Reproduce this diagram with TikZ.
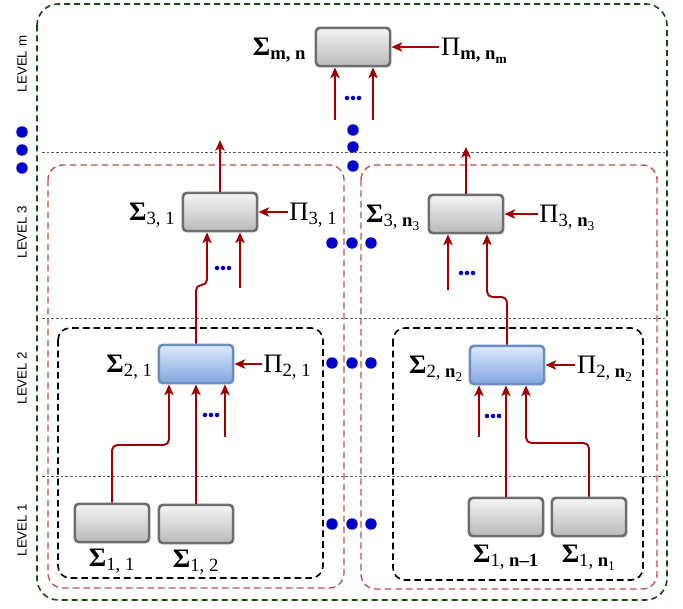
\documentclass[tikz,border=0pt]{standalone}
\usepackage{amsmath}
\usepackage{amssymb}
\usepackage{fontspec}
\newfontfamily\levelfont{Liberation Sans}
\newfontfamily\symfont{Liberation Serif}
\usetikzlibrary{arrows.meta,positioning}
\definecolor{boxgray}{RGB}{110,110,110}
\definecolor{boxblue}{RGB}{108,142,191}
\definecolor{boxbluetop}{RGB}{220,233,252}
\definecolor{boxbluebot}{RGB}{128,166,222}
\definecolor{arrred}{RGB}{160,0,0}
\definecolor{dotblue}{RGB}{0,0,205}
\definecolor{lvlgreen}{RGB}{20,75,20}
\definecolor{lvlred}{RGB}{190,80,80}
\newcommand{\sumlab}[1]{$\text{\bfseries Σ}_{#1}$}
\newcommand{\pilab}[1]{$\text{Π}_{#1}$}

\begin{document}
\begin{tikzpicture}[x=0.75pt,y=-0.75pt,
  sumbox/.style={rectangle, rounded corners=3pt, draw=boxgray, line width=2pt,
    top color=gray!8, bottom color=gray!55, minimum width=55.7pt, minimum height=28.7pt, inner sep=0pt},
  blubox/.style={sumbox, draw=boxblue, top color=boxbluetop, bottom color=boxbluebot},
  lab/.style={font=\symfont\fontsize{20}{22}\selectfont, inner sep=1pt},
  arr/.style={draw=arrred, line width=1.4pt, -{Stealth[length=8pt,width=7pt,inset=2pt]}},
  feed/.style={arr, rounded corners=4pt},
  sep/.style={draw=gray!70!black, line width=0.6pt, dash pattern=on 2pt off 1.5pt},
  lvl/.style={font=\levelfont\fontsize{10}{12}\selectfont, rotate=90}]
\useasboundingbox (0,0) rectangle (683,609);
% level separators
\draw[sep] (42,152) -- (667,152);
\draw[sep] (42,318) -- (667,318);
\draw[sep] (42,476) -- (667,476);
% group frames
\draw[lvlgreen, line width=1.2pt, dash pattern=on 4.5pt off 3pt, rounded corners=16pt] (37,4) rectangle (667,600);
\draw[lvlred, line width=1pt, dash pattern=on 5pt off 3pt, rounded corners=11pt] (48,165) rectangle (344,588);
\draw[lvlred, line width=1pt, dash pattern=on 5pt off 3pt, rounded corners=11pt] (361,165) rectangle (657,589);
\draw[black, line width=1.2pt, dash pattern=on 5pt off 3pt, rounded corners=9pt] (58,328) rectangle (323,578);
\draw[black, line width=1.2pt, dash pattern=on 5pt off 3pt, rounded corners=9pt] (393,328) rectangle (643,580);
% level names
\node[lvl] (lvm) at (22,64) {LEVEL m};
\node[lvl] (lv3) at (22,232) {LEVEL 3};
\node[lvl] (lv2) at (22,378) {LEVEL 2};
\node[lvl] (lv1) at (22,530) {LEVEL 1};
% boxes
\node[sumbox] (smn) at (353,47) {};
\node[sumbox] (s31) at (220,212) {};
\node[sumbox] (s3n) at (466,214) {};
\node[blubox] (s21) at (196,364) {};
\node[blubox] (s2n) at (507,365) {};
\node[sumbox] (s11) at (112,523) {};
\node[sumbox] (s12) at (196,524) {};
\node[sumbox] (s1m) at (506,517) {};
\node[sumbox] (s1n) at (589,517) {};
% sigma labels
\node[lab, anchor=base east] (lsmn) at ([xshift=-5pt,yshift=-6.5pt]smn.west) {\sumlab{\text{\bfseries m, n}}};
\node[lab, anchor=base east] (ls31) at ([xshift=-3.5pt,yshift=-6.5pt]s31.west) {\sumlab{\text{3, 1}}};
\node[lab, anchor=base east] (ls3n) at ([xshift=-4pt,yshift=-6.5pt]s3n.west) {\sumlab{\text{3, \bfseries n}_{\text{3}}}};
\node[lab, anchor=base east] (ls21) at ([xshift=-2.5pt,yshift=-6.5pt]s21.west) {\sumlab{\text{2, 1}}};
\node[lab, anchor=base east] (ls2n) at ([xshift=-2.5pt,yshift=-6.5pt]s2n.west) {\sumlab{\text{2, \bfseries n}_{\text{2}}}};
\node[lab, anchor=base] (ls11) at ([yshift=-17.5pt]s11.south) {\sumlab{\text{1, 1}}};
\node[lab, anchor=base] (ls12) at ([yshift=-17.5pt]s12.south) {\sumlab{\text{1, 2}}};
\node[lab, anchor=base] (ls1m) at ([yshift=-19pt]s1m.south) {\sumlab{\text{1, \bfseries n–1}}};
\node[lab, anchor=base] (ls1n) at ([yshift=-19pt]s1n.south) {\sumlab{\text{1, \bfseries n}_{\text{1}}}};
% pi labels
\node[lab, anchor=base west] (pmn) at ([xshift=36pt,yshift=-6.5pt]smn.east) {\pilab{\text{\bfseries m, n}_{\text{\bfseries m}}}};
\node[lab, anchor=base west] (p31) at ([xshift=22pt,yshift=-6.5pt]s31.east) {\pilab{\text{3, 1}}};
\node[lab, anchor=base west] (p3n) at ([xshift=25pt,yshift=-6.5pt]s3n.east) {\pilab{\text{3, \bfseries n}_{\text{3}}}};
\node[lab, anchor=base west] (p21) at ([xshift=20.5pt,yshift=-6.5pt]s21.east) {\pilab{\text{2, 1}}};
\node[lab, anchor=base west] (p2n) at ([xshift=22.5pt,yshift=-6.5pt]s2n.east) {\pilab{\text{2, \bfseries n}_{\text{2}}}};
\foreach \p/\s in {pmn/smn,p31/s31,p3n/s3n,p21/s21,p2n/s2n}
  \draw[arr] (\s.east -| \p.west) -- (\s.east);
% free inputs and outputs
\coordinate (tin1) at (335,120);
\coordinate (tin2) at (373,120);
\coordinate (in31) at (240,288);
\coordinate (in3n) at (448,290);
\coordinate (in21) at (225,437);
\coordinate (in2n) at (479,437);
\coordinate (out31) at (220,140);
\coordinate (out3n) at (466,147);
\foreach \c/\s in {tin1/smn,tin2/smn,in31/s31,in3n/s3n,in21/s21,in2n/s2n}
  \draw[arr] (\c) -- (\c |- \s.south);
\draw[arr] (s31.north) -- (out31);
\draw[arr] (s3n.north) -- (out3n);
% feeds between levels
\coordinate (j21) at (169,445);
\coordinate (j31) at (207,285);
\coordinate (j3n) at (487,297);
\coordinate (j2n) at (526,443);
\draw[feed] (s11.north) -- (s11.north |- j21) -- (j21) -- (j21 |- s21.south);
\draw[arr] (s12.north) -- (s21.south);
\draw[feed] (s21.north) -- (s21.north |- j31) -- (j31) -- (j31 |- s31.south);
\draw[feed] (s2n.north) -- (s2n.north |- j3n) -- (j3n) -- (j3n |- s3n.south);
\draw[arr] (s1m.north) -- (s1m.north |- s2n.south);
\draw[feed] (s1n.north) -- (s1n.north |- j2n) -- (j2n) -- (j2n |- s2n.south);
% small dots
\foreach \x/\y in {353/98,223/268,467/273,211/415,493/416}
  \foreach \dx in {-6,0,6}
    \fill[dotblue] (\x+\dx,\y) circle (1.7pt);
% big dots
\foreach \y in {132,150,168} \fill[dotblue] (22,\y) circle (4.3pt);
\foreach \y in {130,147,166} \fill[dotblue] (353,\y) circle (4.3pt);
\foreach \y in {243,363,524}
  \foreach \x in {332,352,371}
    \fill[dotblue] (\x,\y) circle (4.3pt);
\end{tikzpicture}
\end{document}
